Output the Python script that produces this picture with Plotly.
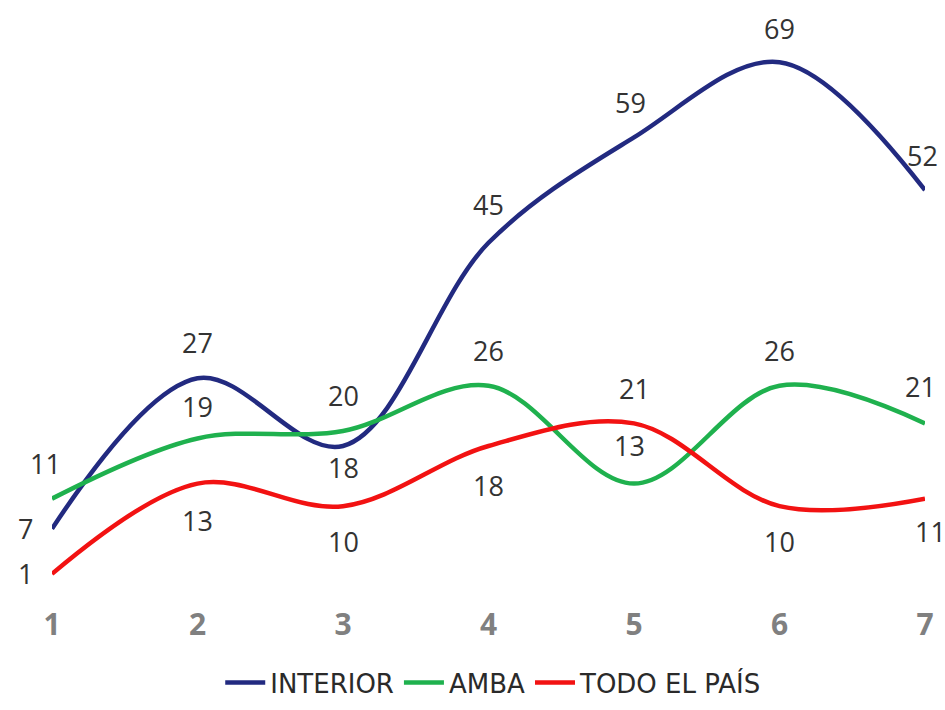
import plotly.graph_objects as go

categories = [1, 2, 3, 4, 5, 6, 7]
interior = [7, 27, 18, 45, 59, 69, 52]
amba = [11, 19, 20, 26, 13, 26, 21]
todo_pais = [1, 13, 10, 18, 21, 10, 11]
series_names = ["INTERIOR", "AMBA", "TODO EL PAÍS"]

colors = ["#222a80", "#1fb14e", "#f21212"]
# label offsets in pixels (xshift, yshift) per point
offsets = [
    [(-27, 0), (0, 36), (0, -22), (0, 38), (-4, 35), (0, 34), (-3, 35)],
    [(-7, 35), (0, 32), (0, 35), (0, 35), (-5, 38), (0, 35), (-5, 37)],
    [(-27, 0), (0, -37), (0, -35), (0, -40), (0, 35), (0, -35), (5, -33)],
]

fig = go.Figure()
all_series = [interior, amba, todo_pais]
for name, vals, col in zip(series_names, all_series, colors):
    fig.add_trace(go.Scatter(
        x=categories, y=vals, name=name, mode="lines",
        line=dict(color=col, width=4.5, shape="spline", smoothing=1),
        cliponaxis=False,
    ))

annotations = []
for vals, offs in zip(all_series, offsets):
    for xv, yv, (dx, dy) in zip(categories, vals, offs):
        annotations.append(dict(
            x=xv, y=yv, text=str(yv), showarrow=False,
            xshift=dx, yshift=dy,
            font=dict(family="Open Sans", size=27, color="#333333"),
        ))

fig.update_layout(
    width=945, height=710,
    margin=dict(l=52, r=20, t=17, b=106, autoexpand=False),
    paper_bgcolor="white", plot_bgcolor="white",
    showlegend=True,
    legend=dict(
        orientation="h", x=0.506, xanchor="center", y=-0.174, yanchor="bottom",
        font=dict(family="DejaVu Sans", size=26, color="#2a2a2a"),
        itemwidth=40, tracegroupgap=0,
    ),
    xaxis=dict(
        range=[1, 7], tickvals=categories, ticktext=[str(c) for c in categories],
        showgrid=False, zeroline=False, showline=False,
        tickfont=dict(family="Open Sans", size=30, color="#808080", weight="bold"),
        ticks="", ticklabelstandoff=0,
    ),
    yaxis=dict(range=[-3, 75], visible=False, showgrid=False, zeroline=False),
    annotations=annotations,
)

fig.write_html("out.html")
